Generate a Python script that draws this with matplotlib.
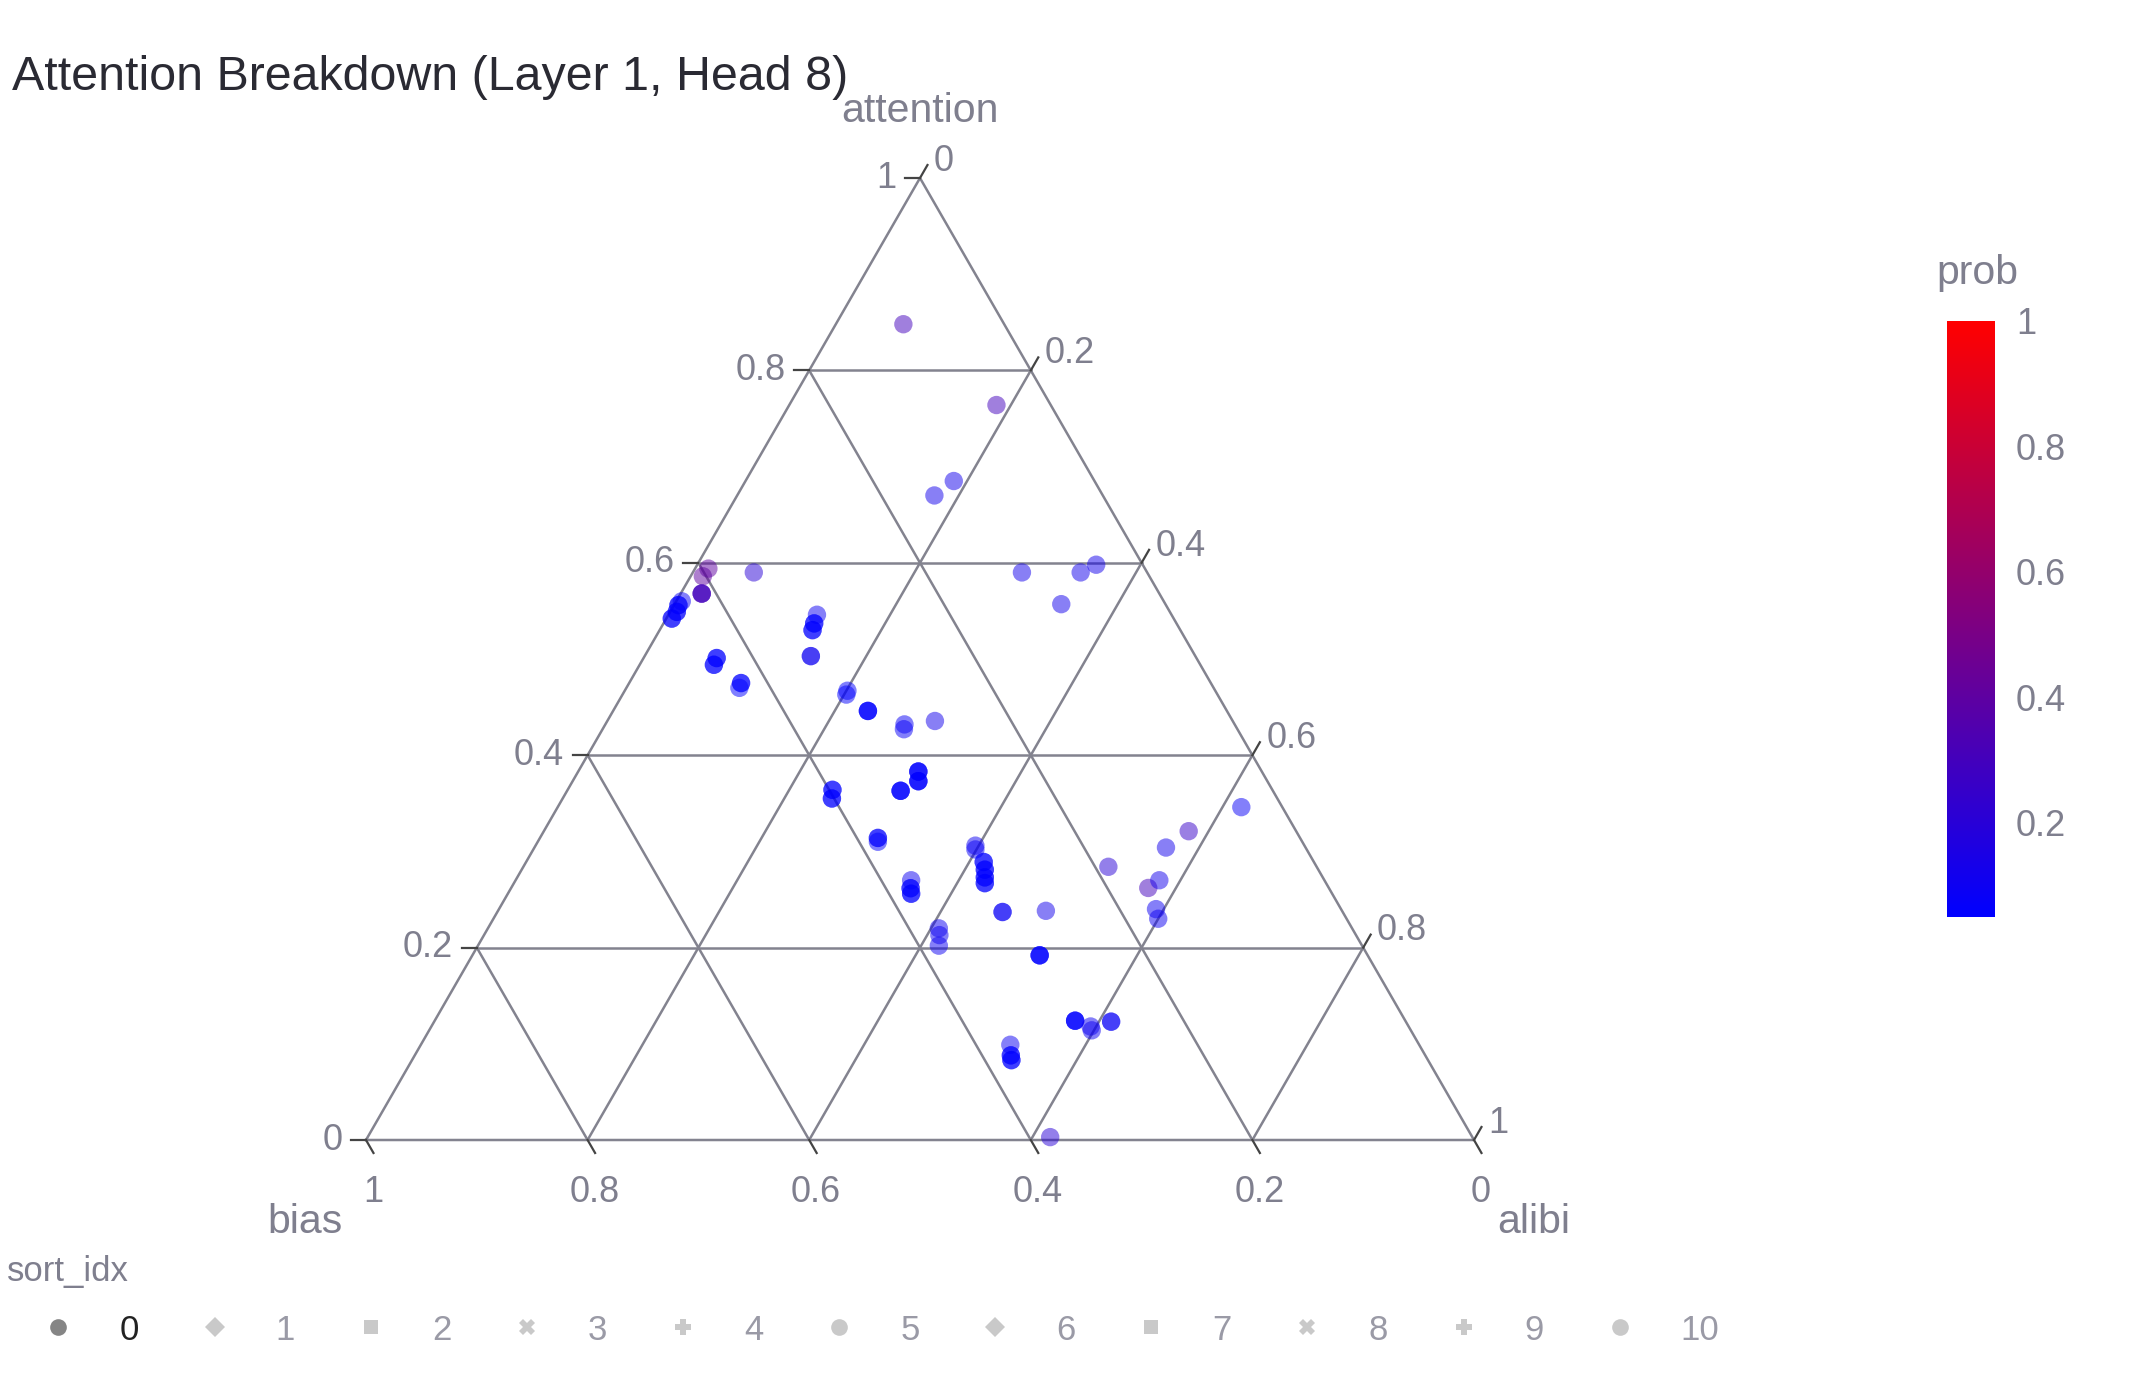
import numpy as np
import matplotlib.pyplot as plt
from matplotlib.colors import LinearSegmentedColormap, Normalize
from matplotlib.cm import ScalarMappable
from matplotlib.lines import Line2D

plt.rcParams['font.family'] = ['Liberation Sans', 'DejaVu Sans']

# ternary values, one row per visible dot
# (n_tok = how many tokens sit on top of each other at that spot)
attention = [0.848, 0.764, 0.685, 0.670, 0.590, 0.590, 0.590, 0.598, 0.557,
             0.594, 0.586, 0.568, 0.560, 0.556, 0.549, 0.542,
             0.546, 0.537, 0.530, 0.503, 0.501, 0.494, 0.475, 0.470,
             0.467, 0.463, 0.446, 0.432, 0.427, 0.436,
             0.364, 0.355, 0.363, 0.383, 0.373, 0.314, 0.310,
             0.270, 0.262, 0.256, 0.306, 0.302,
             0.289, 0.281, 0.273, 0.267, 0.237, 0.238,
             0.220, 0.213, 0.202, 0.192, 0.124, 0.114, 0.118, 0.123,
             0.099, 0.088, 0.083, 0.003,
             0.284, 0.262, 0.270, 0.304, 0.321, 0.346, 0.240, 0.230]
bias = [0.091, 0.049, 0.127, 0.152, 0.355, 0.113, 0.060, 0.042, 0.094,
        0.394, 0.403, 0.413, 0.435, 0.440, 0.445, 0.453,
        0.320, 0.327, 0.332, 0.347, 0.433, 0.439, 0.424, 0.428,
        0.332, 0.335, 0.324, 0.298, 0.301, 0.269,
        0.397, 0.402, 0.336, 0.310, 0.315, 0.381, 0.383,
        0.373, 0.378, 0.380, 0.297, 0.299,
        0.298, 0.301, 0.305, 0.308, 0.307, 0.267,
        0.373, 0.376, 0.382, 0.296, 0.298, 0.288, 0.287, 0.266,
        0.369, 0.374, 0.376, 0.381,
        0.188, 0.163, 0.149, 0.126, 0.097, 0.037, 0.167, 0.170]
alibi = [0.061, 0.187, 0.188, 0.178, 0.055, 0.297, 0.350, 0.360, 0.349,
         0.012, 0.011, 0.019, 0.005, 0.004, 0.006, 0.005,
         0.134, 0.136, 0.138, 0.150, 0.066, 0.067, 0.101, 0.102,
         0.201, 0.202, 0.230, 0.270, 0.272, 0.296,
         0.239, 0.243, 0.301, 0.307, 0.312, 0.305, 0.307,
         0.357, 0.361, 0.364, 0.397, 0.399,
         0.413, 0.418, 0.422, 0.425, 0.456, 0.494,
         0.407, 0.411, 0.416, 0.512, 0.578, 0.598, 0.595, 0.611,
         0.532, 0.538, 0.541, 0.616,
         0.528, 0.575, 0.581, 0.570, 0.582, 0.617, 0.593, 0.600]
prob = [0.30, 0.30, 0.12, 0.12, 0.20, 0.12, 0.12, 0.12, 0.12,
        0.40, 0.40, 0.30, 0.08, 0.06, 0.06, 0.06,
        0.10, 0.05, 0.05, 0.10, 0.05, 0.05, 0.05, 0.05,
        0.06, 0.06, 0.05, 0.08, 0.08, 0.12,
        0.05, 0.05, 0.05, 0.05, 0.05, 0.06, 0.06,
        0.10, 0.05, 0.05, 0.10, 0.08,
        0.05, 0.05, 0.05, 0.05, 0.08, 0.12,
        0.10, 0.10, 0.10, 0.05, 0.05, 0.10, 0.10, 0.08,
        0.10, 0.05, 0.05, 0.20,
        0.20, 0.30, 0.12, 0.12, 0.25, 0.08, 0.10, 0.10]
n_tok = [1, 1, 1, 1, 1, 1, 1, 1, 1,
         1, 1, 3, 1, 2, 2, 2,
         1, 2, 2, 2, 2, 2, 2, 1,
         1, 1, 3, 1, 1, 1,
         2, 2, 3, 3, 3, 2, 1,
         1, 2, 2, 1, 1,
         2, 2, 2, 2, 2, 1,
         1, 1, 1, 3, 3, 1, 1, 2,
         1, 2, 2, 1,
         1, 1, 1, 1, 1, 1, 1, 1]

tick_vals = [0, 0.2, 0.4, 0.6, 0.8, 1]
tick_text = ['0', '0.2', '0.4', '0.6', '0.8', '1']
legend_ids = ['0', '1', '2', '3', '4', '5', '6', '7', '8', '9', '10']
legend_marks = ['o', 'D', 's', 'X', 'P', 'o', 'D', 's', 'X', 'P', 'o']

H = np.sqrt(3) / 2
gray_txt = '#7f7f8e'
gray_grid = '#83838f'


def tern(a, b, c):
    a, b, c = np.asarray(a, float), np.asarray(b, float), np.asarray(c, float)
    s = a + b + c
    return (c + a / 2) / s, a / s * H


fig = plt.figure(figsize=(21.42, 13.80), dpi=100)
ax = fig.add_axes([366 / 2142, 240 / 1380, 1108 / 2142, 962 / 1380])
ax.set_xlim(0, 1)
ax.set_ylim(0, H)
ax.axis('off')

# grid
for v in [0.2, 0.4, 0.6, 0.8]:
    for p0, p1 in [((v, 1 - v, 0), (v, 0, 1 - v)),
                   ((0, v, 1 - v), (1 - v, v, 0)),
                   ((0, 1 - v, v), (1 - v, 0, v))]:
        x0, y0 = tern(*p0)
        x1, y1 = tern(*p1)
        ax.plot([x0, x1], [y0, y1], color=gray_grid, lw=1.8, zorder=1)
ax.plot([0, 1, 0.5, 0], [0, 0, H, 0], color=gray_grid, lw=1.8, zorder=1, clip_on=False)

# ticks + tick labels
L = 0.0135
for v, t in zip(tick_vals, tick_text):
    # attention (left edge)
    x, y = tern(v, 1 - v, 0)
    ax.plot([x, x - L], [y, y], color='#444444', lw=1.6, clip_on=False)
    ax.annotate(t, (x, y), xytext=(-17, 0), textcoords='offset points',
                ha='right', va='center', fontsize=26, color=gray_txt)
    # bias (bottom edge)
    x, y = tern(0, v, 1 - v)
    ax.plot([x, x + L * 0.5], [y, y - L * 0.866], color='#444444', lw=1.6, clip_on=False)
    ax.annotate(t, (x, y), xytext=(5, -38), textcoords='offset points',
                ha='center', va='center', fontsize=26, color=gray_txt)
    # alibi (right edge)
    x, y = tern(1 - v, 0, v)
    ax.plot([x, x + L * 0.5], [y, y + L * 0.866], color='#444444', lw=1.6, clip_on=False)
    ax.annotate(t, (x, y), xytext=(10, 12), textcoords='offset points',
                ha='left', va='center', fontsize=26, color=gray_txt)

ax.annotate('attention', tern(1, 0, 0), xytext=(0, 48), textcoords='offset points',
            ha='center', va='center', fontsize=29.5, color=gray_txt)
ax.annotate('bias', tern(0, 1, 0), xytext=(-44, -59), textcoords='offset points',
            ha='center', va='center', fontsize=29.5, color=gray_txt)
ax.annotate('alibi', tern(0, 0, 1), xytext=(43, -59), textcoords='offset points',
            ha='center', va='center', fontsize=29.5, color=gray_txt)

# points
cmap = LinearSegmentedColormap.from_list('bluered', ['#0000ff', '#ff0000'])
norm = Normalize(0.049, 1.0)
a = np.repeat(attention, n_tok)
b = np.repeat(bias, n_tok)
c = np.repeat(alibi, n_tok)
p = np.repeat(prob, n_tok)
xs, ys = tern(a, b, c)
ax.scatter(xs, ys, c=p, cmap=cmap, norm=norm, s=175, alpha=0.5,
           linewidths=0, zorder=3, clip_on=False)

# colorbar
cax = fig.add_axes([1947 / 2142, 463 / 1380, 48 / 2142, 596 / 1380])
cb = fig.colorbar(ScalarMappable(norm=norm, cmap=cmap), cax=cax)
cb.outline.set_visible(False)
cb.set_ticks([0.2, 0.4, 0.6, 0.8, 1.0])
cb.set_ticklabels(['0.2', '0.4', '0.6', '0.8', '1'])
cb.ax.tick_params(length=0, pad=15, labelsize=26, labelcolor=gray_txt)
fig.text(1977 / 2142, 1 - 273 / 1380, 'prob', ha='center', va='center',
         fontsize=29.5, color=gray_txt)

# title
fig.text(12 / 2142, 1 - 77 / 1380, 'Attention Breakdown (Layer 1, Head 8)',
         ha='left', va='center', fontsize=34.8, color='#2a2a33')

# legend (only sort_idx 0 is switched on)
fig.text(7 / 2142, 1 - 1272 / 1380, 'sort_idx', ha='left', va='center',
         fontsize=25, color=gray_txt)
handles = []
for i, m in enumerate(legend_marks):
    col = '#858585' if i == 0 else '#c9c9c9'
    ms = 12 if m in ('o', 'X', 'P') else 10.5
    handles.append(Line2D([], [], marker=m, ls='', color=col, markersize=ms,
                          markeredgewidth=0))
leg = fig.legend(handles, legend_ids, loc='center left',
                 bbox_to_anchor=(41 / 2142, 1 - 1330 / 1380), ncol=11,
                 frameon=False, fontsize=25, handlelength=1.0,
                 handletextpad=1.26, columnspacing=1.68, borderpad=0,
                 borderaxespad=0)
for i, t in enumerate(leg.get_texts()):
    t.set_color('#222222' if i == 0 else '#9a9aa6')

fig.savefig('out.png', dpi=100, facecolor='white')
